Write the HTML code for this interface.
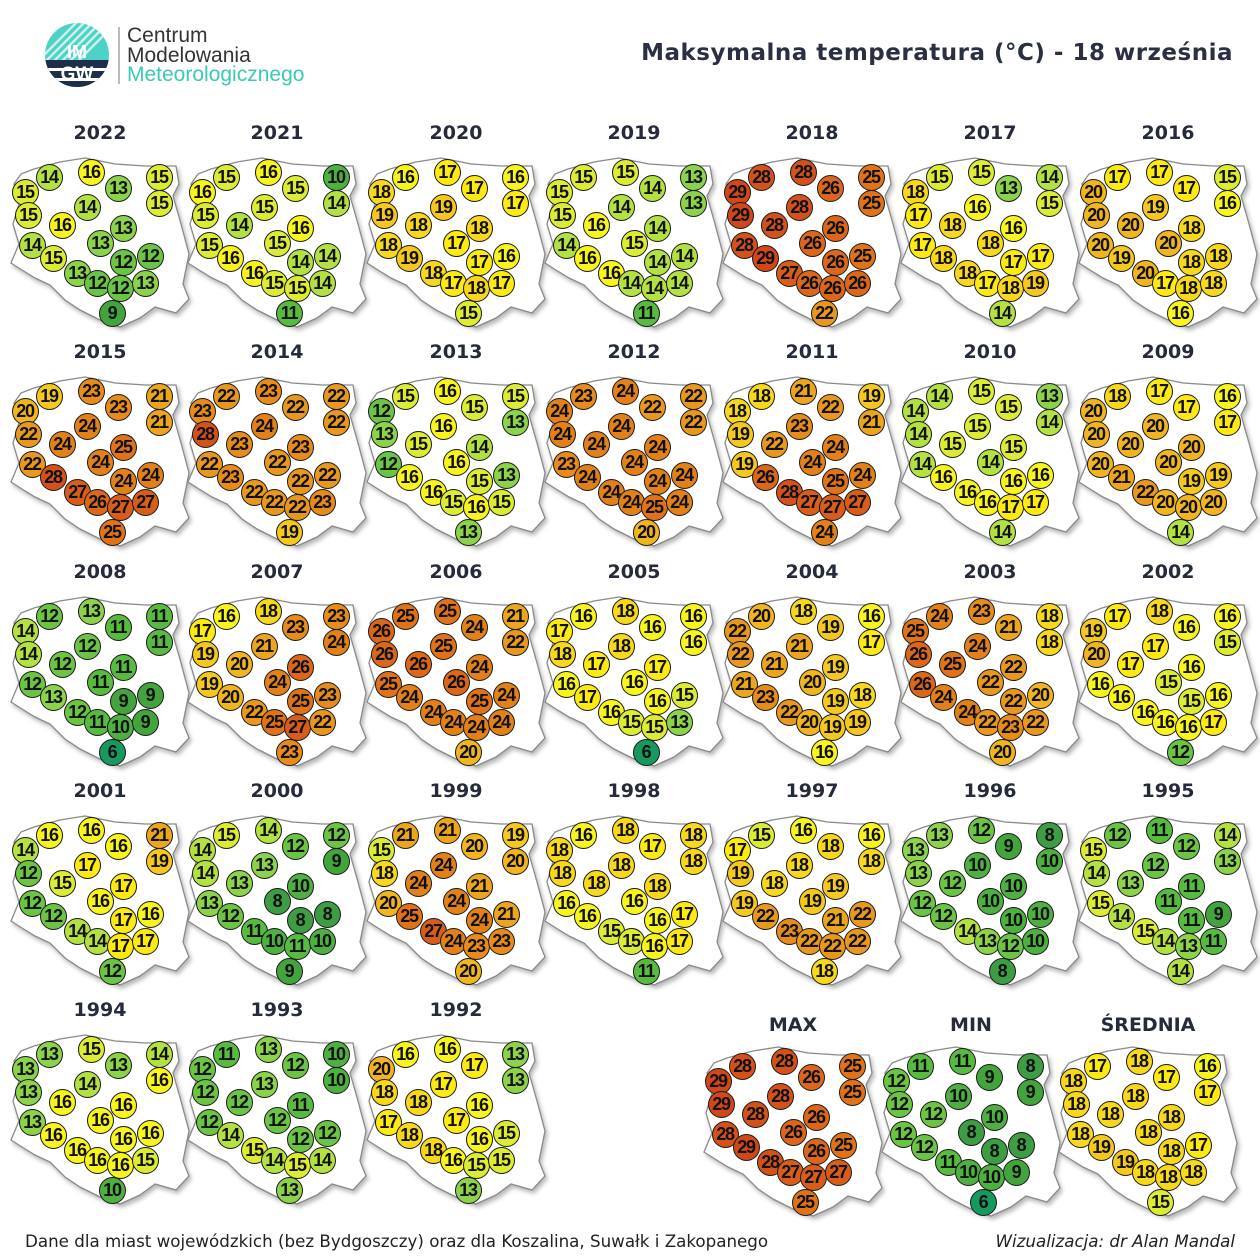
<!DOCTYPE html>
<html><head><meta charset="utf-8">
<style>
body{margin:0;background:#fff;}
#w{position:relative;width:1260px;height:1260px;overflow:hidden;background:#fff;font-family:"Liberation Sans",sans-serif;}
.m{position:absolute;width:0;height:0}
.m b{position:absolute;left:-80px;width:160px;top:-13px;text-align:center;font:bold 19px/26px "DejaVu Sans","Liberation Sans",sans-serif;color:#262b3b}
.m svg{position:absolute;left:-100px;top:0;width:200px;height:210px;overflow:visible;filter:drop-shadow(2px 3px 2px rgba(0,0,0,.28))}
.m i{position:absolute;width:25px;height:25px;margin:-13px 0 0 -13px;border:1px solid #1a1a1a;border-radius:50%;font:bold 18px/25px "Liberation Sans",sans-serif;text-align:center;font-style:normal;color:#111;letter-spacing:-1.3px;text-indent:-1px}
.A{left:-75px;top:59px}.B{left:-51px;top:44px}.C{left:-9px;top:39px}.D{left:18px;top:55px}.E{left:59px;top:44px}
.F{left:59px;top:70px}.G{left:-72px;top:82px}.H{left:-13px;top:74px}.I{left:-38px;top:92px}.J{left:23px;top:95px}
.K{left:-68px;top:112px}.L{left:0px;top:110px}.M{left:-47px;top:125px}.N{left:23px;top:129px}.O{left:50px;top:123px}
.P{left:-23px;top:140px}.Q{left:-3px;top:150px}.R{left:20px;top:155px}.S{left:45px;top:150px}.T{left:12px;top:180px}
.c6{background:#16985e}.c8{background:#3d9c44}.c9{background:#43a43e}.c10{background:#4db040}.c11{background:#57bb3f}
.c12{background:#6cc444}.c13{background:#8cd24a}.c14{background:#b3e042}.c15{background:#dcec34}.c16{background:#f8f41e}
.c17{background:#fcea12}.c18{background:#f8d81c}.c19{background:#f4c81e}.c20{background:#f0b520}.c21{background:#eca51e}
.c22{background:#e8981e}.c23{background:#e68b1c}.c24{background:#e2801a}.c25{background:#e0731a}.c26{background:#dc671a}
.c27{background:#d85d1a}.c28{background:#d4521a}.c29{background:#d0481a}
#title{position:absolute;right:27px;top:40px;font:bold 23px "DejaVu Sans","Liberation Sans",sans-serif;color:#2a3042;letter-spacing:0.5px}
#f1{position:absolute;left:25px;top:1231px;font:16.7px "DejaVu Sans","Liberation Sans",sans-serif;color:#222}
#f2{position:absolute;right:25px;top:1231px;font:italic 16.7px "DejaVu Sans","Liberation Sans",sans-serif;color:#222}
</style></head><body><div id="w">
<svg width="0" height="0" style="position:absolute"><defs>
<polygon id="pl" points="-66,36 -40,29 -15,25 0,28 15,31 45,33 76,33 79,51 73,63 81,91 89,121 83,151 89,166 76,180 55,174 40,185 20,194 0,187 -20,177 -35,167 -50,152 -65,145 -78,137 -89,130 -81,111 -87,91 -81,71 -86,51 -79,41" fill="#fff" stroke="#8a8a8a" stroke-width="1.3"/>
</defs></svg>

<svg style="position:absolute;left:0;top:0" width="420" height="110">
<defs><clipPath id="lc"><circle cx="77" cy="55" r="32"/></clipPath></defs>
<g clip-path="url(#lc)">
<rect x="40" y="20" width="80" height="70" fill="#4fd2c6"/>
<g stroke="#fff" stroke-width="2.5" opacity=".7">
<line x1="45" y1="70" x2="95" y2="20"/><line x1="53" y1="70" x2="103" y2="20"/><line x1="61" y1="70" x2="111" y2="20"/><line x1="69" y1="70" x2="119" y2="20"/><line x1="37" y1="70" x2="87" y2="20"/><line x1="29" y1="70" x2="79" y2="20"/></g>
<rect x="40" y="60" width="80" height="30" fill="#1d2d4a"/>
<rect x="40" y="68" width="80" height="3" fill="#fff"/><rect x="40" y="78" width="80" height="3" fill="#fff"/>
</g>
<text x="77" y="58" text-anchor="middle" font-family="Liberation Sans" font-weight="bold" font-size="18" fill="#fff">IM</text>
<text x="77" y="80" text-anchor="middle" font-family="Liberation Sans" font-weight="bold" font-size="19" fill="#fff">GW</text>
<line x1="119" y1="27" x2="119" y2="84" stroke="#777" stroke-width="1"/>
<text x="127" y="42" font-family="Liberation Sans" font-size="21" fill="#333">Centrum</text>
<text x="127" y="62" font-family="Liberation Sans" font-size="21" fill="#333">Modelowania</text>
<text x="127" y="81" font-family="Liberation Sans" font-size="21" fill="#3cc9b6">Meteorologicznego</text>
</svg>
<div id="title">Maksymalna temperatura (°C) - 18 września</div>

<div class="m" style="left:100px;top:133px"><b>2022</b><svg viewBox="-100 0 200 210"><use href="#pl"/></svg><i class="A c15">15</i><i class="B c14">14</i><i class="C c16">16</i><i class="D c13">13</i><i class="E c15">15</i><i class="F c15">15</i><i class="G c15">15</i><i class="H c14">14</i><i class="I c16">16</i><i class="J c13">13</i><i class="K c14">14</i><i class="L c13">13</i><i class="M c15">15</i><i class="N c12">12</i><i class="O c12">12</i><i class="P c13">13</i><i class="Q c12">12</i><i class="R c12">12</i><i class="S c13">13</i><i class="T c9">9</i></div>
<div class="m" style="left:277px;top:133px"><b>2021</b><svg viewBox="-100 0 200 210"><use href="#pl"/></svg><i class="A c16">16</i><i class="B c15">15</i><i class="C c16">16</i><i class="D c15">15</i><i class="E c10">10</i><i class="F c14">14</i><i class="G c15">15</i><i class="H c15">15</i><i class="I c14">14</i><i class="J c16">16</i><i class="K c15">15</i><i class="L c15">15</i><i class="M c16">16</i><i class="N c14">14</i><i class="O c14">14</i><i class="P c16">16</i><i class="Q c15">15</i><i class="R c15">15</i><i class="S c14">14</i><i class="T c11">11</i></div>
<div class="m" style="left:456px;top:133px"><b>2020</b><svg viewBox="-100 0 200 210"><use href="#pl"/></svg><i class="A c18">18</i><i class="B c16">16</i><i class="C c17">17</i><i class="D c17">17</i><i class="E c16">16</i><i class="F c17">17</i><i class="G c19">19</i><i class="H c19">19</i><i class="I c18">18</i><i class="J c18">18</i><i class="K c18">18</i><i class="L c17">17</i><i class="M c19">19</i><i class="N c17">17</i><i class="O c16">16</i><i class="P c18">18</i><i class="Q c17">17</i><i class="R c18">18</i><i class="S c17">17</i><i class="T c15">15</i></div>
<div class="m" style="left:634px;top:133px"><b>2019</b><svg viewBox="-100 0 200 210"><use href="#pl"/></svg><i class="A c15">15</i><i class="B c15">15</i><i class="C c15">15</i><i class="D c14">14</i><i class="E c13">13</i><i class="F c13">13</i><i class="G c15">15</i><i class="H c14">14</i><i class="I c16">16</i><i class="J c14">14</i><i class="K c14">14</i><i class="L c15">15</i><i class="M c16">16</i><i class="N c14">14</i><i class="O c14">14</i><i class="P c16">16</i><i class="Q c14">14</i><i class="R c14">14</i><i class="S c14">14</i><i class="T c11">11</i></div>
<div class="m" style="left:812px;top:133px"><b>2018</b><svg viewBox="-100 0 200 210"><use href="#pl"/></svg><i class="A c29">29</i><i class="B c28">28</i><i class="C c28">28</i><i class="D c26">26</i><i class="E c25">25</i><i class="F c25">25</i><i class="G c29">29</i><i class="H c28">28</i><i class="I c28">28</i><i class="J c26">26</i><i class="K c28">28</i><i class="L c26">26</i><i class="M c29">29</i><i class="N c26">26</i><i class="O c25">25</i><i class="P c27">27</i><i class="Q c26">26</i><i class="R c26">26</i><i class="S c26">26</i><i class="T c22">22</i></div>
<div class="m" style="left:990px;top:133px"><b>2017</b><svg viewBox="-100 0 200 210"><use href="#pl"/></svg><i class="A c18">18</i><i class="B c15">15</i><i class="C c15">15</i><i class="D c13">13</i><i class="E c14">14</i><i class="F c15">15</i><i class="G c17">17</i><i class="H c16">16</i><i class="I c18">18</i><i class="J c16">16</i><i class="K c17">17</i><i class="L c18">18</i><i class="M c18">18</i><i class="N c17">17</i><i class="O c17">17</i><i class="P c18">18</i><i class="Q c17">17</i><i class="R c18">18</i><i class="S c19">19</i><i class="T c14">14</i></div>
<div class="m" style="left:1168px;top:133px"><b>2016</b><svg viewBox="-100 0 200 210"><use href="#pl"/></svg><i class="A c20">20</i><i class="B c17">17</i><i class="C c17">17</i><i class="D c17">17</i><i class="E c15">15</i><i class="F c16">16</i><i class="G c20">20</i><i class="H c19">19</i><i class="I c20">20</i><i class="J c18">18</i><i class="K c20">20</i><i class="L c20">20</i><i class="M c19">19</i><i class="N c18">18</i><i class="O c18">18</i><i class="P c20">20</i><i class="Q c17">17</i><i class="R c18">18</i><i class="S c18">18</i><i class="T c16">16</i></div>

<div class="m" style="left:100px;top:352px"><b>2015</b><svg viewBox="-100 0 200 210"><use href="#pl"/></svg><i class="A c20">20</i><i class="B c19">19</i><i class="C c23">23</i><i class="D c23">23</i><i class="E c21">21</i><i class="F c21">21</i><i class="G c22">22</i><i class="H c24">24</i><i class="I c24">24</i><i class="J c25">25</i><i class="K c22">22</i><i class="L c24">24</i><i class="M c28">28</i><i class="N c24">24</i><i class="O c24">24</i><i class="P c27">27</i><i class="Q c26">26</i><i class="R c27">27</i><i class="S c27">27</i><i class="T c25">25</i></div>
<div class="m" style="left:277px;top:352px"><b>2014</b><svg viewBox="-100 0 200 210"><use href="#pl"/></svg><i class="A c23">23</i><i class="B c22">22</i><i class="C c23">23</i><i class="D c22">22</i><i class="E c22">22</i><i class="F c22">22</i><i class="G c28">28</i><i class="H c24">24</i><i class="I c23">23</i><i class="J c23">23</i><i class="K c22">22</i><i class="L c22">22</i><i class="M c23">23</i><i class="N c22">22</i><i class="O c22">22</i><i class="P c22">22</i><i class="Q c22">22</i><i class="R c22">22</i><i class="S c23">23</i><i class="T c19">19</i></div>
<div class="m" style="left:456px;top:352px"><b>2013</b><svg viewBox="-100 0 200 210"><use href="#pl"/></svg><i class="A c12">12</i><i class="B c15">15</i><i class="C c16">16</i><i class="D c15">15</i><i class="E c15">15</i><i class="F c13">13</i><i class="G c13">13</i><i class="H c16">16</i><i class="I c15">15</i><i class="J c14">14</i><i class="K c12">12</i><i class="L c16">16</i><i class="M c16">16</i><i class="N c15">15</i><i class="O c13">13</i><i class="P c16">16</i><i class="Q c15">15</i><i class="R c16">16</i><i class="S c15">15</i><i class="T c13">13</i></div>
<div class="m" style="left:634px;top:352px"><b>2012</b><svg viewBox="-100 0 200 210"><use href="#pl"/></svg><i class="A c24">24</i><i class="B c23">23</i><i class="C c24">24</i><i class="D c22">22</i><i class="E c22">22</i><i class="F c22">22</i><i class="G c24">24</i><i class="H c24">24</i><i class="I c24">24</i><i class="J c24">24</i><i class="K c23">23</i><i class="L c24">24</i><i class="M c24">24</i><i class="N c24">24</i><i class="O c24">24</i><i class="P c24">24</i><i class="Q c24">24</i><i class="R c25">25</i><i class="S c24">24</i><i class="T c20">20</i></div>
<div class="m" style="left:812px;top:352px"><b>2011</b><svg viewBox="-100 0 200 210"><use href="#pl"/></svg><i class="A c18">18</i><i class="B c18">18</i><i class="C c21">21</i><i class="D c22">22</i><i class="E c19">19</i><i class="F c21">21</i><i class="G c19">19</i><i class="H c23">23</i><i class="I c22">22</i><i class="J c24">24</i><i class="K c19">19</i><i class="L c24">24</i><i class="M c26">26</i><i class="N c25">25</i><i class="O c24">24</i><i class="P c28">28</i><i class="Q c27">27</i><i class="R c27">27</i><i class="S c27">27</i><i class="T c24">24</i></div>
<div class="m" style="left:990px;top:352px"><b>2010</b><svg viewBox="-100 0 200 210"><use href="#pl"/></svg><i class="A c14">14</i><i class="B c14">14</i><i class="C c15">15</i><i class="D c15">15</i><i class="E c13">13</i><i class="F c14">14</i><i class="G c14">14</i><i class="H c15">15</i><i class="I c15">15</i><i class="J c15">15</i><i class="K c14">14</i><i class="L c14">14</i><i class="M c16">16</i><i class="N c16">16</i><i class="O c16">16</i><i class="P c16">16</i><i class="Q c16">16</i><i class="R c17">17</i><i class="S c17">17</i><i class="T c14">14</i></div>
<div class="m" style="left:1168px;top:352px"><b>2009</b><svg viewBox="-100 0 200 210"><use href="#pl"/></svg><i class="A c20">20</i><i class="B c18">18</i><i class="C c17">17</i><i class="D c17">17</i><i class="E c16">16</i><i class="F c17">17</i><i class="G c20">20</i><i class="H c20">20</i><i class="I c20">20</i><i class="J c20">20</i><i class="K c20">20</i><i class="L c20">20</i><i class="M c21">21</i><i class="N c19">19</i><i class="O c19">19</i><i class="P c22">22</i><i class="Q c20">20</i><i class="R c20">20</i><i class="S c20">20</i><i class="T c14">14</i></div>

<div class="m" style="left:100px;top:572px"><b>2008</b><svg viewBox="-100 0 200 210"><use href="#pl"/></svg><i class="A c14">14</i><i class="B c12">12</i><i class="C c13">13</i><i class="D c11">11</i><i class="E c11">11</i><i class="F c11">11</i><i class="G c14">14</i><i class="H c12">12</i><i class="I c12">12</i><i class="J c11">11</i><i class="K c12">12</i><i class="L c11">11</i><i class="M c13">13</i><i class="N c9">9</i><i class="O c9">9</i><i class="P c12">12</i><i class="Q c11">11</i><i class="R c10">10</i><i class="S c9">9</i><i class="T c6">6</i></div>
<div class="m" style="left:277px;top:572px"><b>2007</b><svg viewBox="-100 0 200 210"><use href="#pl"/></svg><i class="A c17">17</i><i class="B c16">16</i><i class="C c18">18</i><i class="D c23">23</i><i class="E c23">23</i><i class="F c24">24</i><i class="G c19">19</i><i class="H c21">21</i><i class="I c20">20</i><i class="J c26">26</i><i class="K c19">19</i><i class="L c24">24</i><i class="M c20">20</i><i class="N c25">25</i><i class="O c23">23</i><i class="P c22">22</i><i class="Q c25">25</i><i class="R c27">27</i><i class="S c22">22</i><i class="T c23">23</i></div>
<div class="m" style="left:456px;top:572px"><b>2006</b><svg viewBox="-100 0 200 210"><use href="#pl"/></svg><i class="A c26">26</i><i class="B c25">25</i><i class="C c25">25</i><i class="D c24">24</i><i class="E c21">21</i><i class="F c22">22</i><i class="G c26">26</i><i class="H c25">25</i><i class="I c26">26</i><i class="J c24">24</i><i class="K c25">25</i><i class="L c26">26</i><i class="M c24">24</i><i class="N c25">25</i><i class="O c24">24</i><i class="P c24">24</i><i class="Q c24">24</i><i class="R c24">24</i><i class="S c24">24</i><i class="T c20">20</i></div>
<div class="m" style="left:634px;top:572px"><b>2005</b><svg viewBox="-100 0 200 210"><use href="#pl"/></svg><i class="A c17">17</i><i class="B c16">16</i><i class="C c18">18</i><i class="D c16">16</i><i class="E c16">16</i><i class="F c16">16</i><i class="G c18">18</i><i class="H c18">18</i><i class="I c17">17</i><i class="J c17">17</i><i class="K c16">16</i><i class="L c16">16</i><i class="M c17">17</i><i class="N c16">16</i><i class="O c15">15</i><i class="P c16">16</i><i class="Q c15">15</i><i class="R c15">15</i><i class="S c13">13</i><i class="T c6">6</i></div>
<div class="m" style="left:812px;top:572px"><b>2004</b><svg viewBox="-100 0 200 210"><use href="#pl"/></svg><i class="A c22">22</i><i class="B c20">20</i><i class="C c18">18</i><i class="D c19">19</i><i class="E c16">16</i><i class="F c17">17</i><i class="G c22">22</i><i class="H c21">21</i><i class="I c21">21</i><i class="J c19">19</i><i class="K c21">21</i><i class="L c20">20</i><i class="M c23">23</i><i class="N c19">19</i><i class="O c18">18</i><i class="P c22">22</i><i class="Q c20">20</i><i class="R c19">19</i><i class="S c19">19</i><i class="T c16">16</i></div>
<div class="m" style="left:990px;top:572px"><b>2003</b><svg viewBox="-100 0 200 210"><use href="#pl"/></svg><i class="A c25">25</i><i class="B c24">24</i><i class="C c23">23</i><i class="D c21">21</i><i class="E c18">18</i><i class="F c18">18</i><i class="G c26">26</i><i class="H c24">24</i><i class="I c25">25</i><i class="J c22">22</i><i class="K c26">26</i><i class="L c22">22</i><i class="M c24">24</i><i class="N c22">22</i><i class="O c20">20</i><i class="P c24">24</i><i class="Q c22">22</i><i class="R c23">23</i><i class="S c22">22</i><i class="T c20">20</i></div>
<div class="m" style="left:1168px;top:572px"><b>2002</b><svg viewBox="-100 0 200 210"><use href="#pl"/></svg><i class="A c19">19</i><i class="B c17">17</i><i class="C c18">18</i><i class="D c16">16</i><i class="E c16">16</i><i class="F c15">15</i><i class="G c20">20</i><i class="H c17">17</i><i class="I c17">17</i><i class="J c16">16</i><i class="K c16">16</i><i class="L c15">15</i><i class="M c16">16</i><i class="N c15">15</i><i class="O c16">16</i><i class="P c16">16</i><i class="Q c16">16</i><i class="R c16">16</i><i class="S c17">17</i><i class="T c12">12</i></div>

<div class="m" style="left:100px;top:791px"><b>2001</b><svg viewBox="-100 0 200 210"><use href="#pl"/></svg><i class="A c14">14</i><i class="B c16">16</i><i class="C c16">16</i><i class="D c16">16</i><i class="E c21">21</i><i class="F c19">19</i><i class="G c12">12</i><i class="H c17">17</i><i class="I c15">15</i><i class="J c17">17</i><i class="K c12">12</i><i class="L c16">16</i><i class="M c12">12</i><i class="N c17">17</i><i class="O c16">16</i><i class="P c14">14</i><i class="Q c14">14</i><i class="R c17">17</i><i class="S c17">17</i><i class="T c12">12</i></div>
<div class="m" style="left:277px;top:791px"><b>2000</b><svg viewBox="-100 0 200 210"><use href="#pl"/></svg><i class="A c14">14</i><i class="B c15">15</i><i class="C c14">14</i><i class="D c12">12</i><i class="E c12">12</i><i class="F c9">9</i><i class="G c14">14</i><i class="H c13">13</i><i class="I c13">13</i><i class="J c10">10</i><i class="K c13">13</i><i class="L c8">8</i><i class="M c12">12</i><i class="N c8">8</i><i class="O c8">8</i><i class="P c11">11</i><i class="Q c10">10</i><i class="R c11">11</i><i class="S c10">10</i><i class="T c9">9</i></div>
<div class="m" style="left:456px;top:791px"><b>1999</b><svg viewBox="-100 0 200 210"><use href="#pl"/></svg><i class="A c15">15</i><i class="B c21">21</i><i class="C c21">21</i><i class="D c20">20</i><i class="E c19">19</i><i class="F c20">20</i><i class="G c18">18</i><i class="H c24">24</i><i class="I c24">24</i><i class="J c21">21</i><i class="K c20">20</i><i class="L c24">24</i><i class="M c25">25</i><i class="N c24">24</i><i class="O c21">21</i><i class="P c27">27</i><i class="Q c24">24</i><i class="R c23">23</i><i class="S c23">23</i><i class="T c20">20</i></div>
<div class="m" style="left:634px;top:791px"><b>1998</b><svg viewBox="-100 0 200 210"><use href="#pl"/></svg><i class="A c18">18</i><i class="B c16">16</i><i class="C c18">18</i><i class="D c17">17</i><i class="E c18">18</i><i class="F c18">18</i><i class="G c18">18</i><i class="H c18">18</i><i class="I c18">18</i><i class="J c18">18</i><i class="K c16">16</i><i class="L c16">16</i><i class="M c16">16</i><i class="N c16">16</i><i class="O c17">17</i><i class="P c15">15</i><i class="Q c15">15</i><i class="R c16">16</i><i class="S c17">17</i><i class="T c11">11</i></div>
<div class="m" style="left:812px;top:791px"><b>1997</b><svg viewBox="-100 0 200 210"><use href="#pl"/></svg><i class="A c17">17</i><i class="B c15">15</i><i class="C c16">16</i><i class="D c18">18</i><i class="E c16">16</i><i class="F c18">18</i><i class="G c19">19</i><i class="H c18">18</i><i class="I c18">18</i><i class="J c19">19</i><i class="K c19">19</i><i class="L c19">19</i><i class="M c22">22</i><i class="N c21">21</i><i class="O c22">22</i><i class="P c23">23</i><i class="Q c22">22</i><i class="R c22">22</i><i class="S c22">22</i><i class="T c18">18</i></div>
<div class="m" style="left:990px;top:791px"><b>1996</b><svg viewBox="-100 0 200 210"><use href="#pl"/></svg><i class="A c13">13</i><i class="B c13">13</i><i class="C c12">12</i><i class="D c9">9</i><i class="E c8">8</i><i class="F c10">10</i><i class="G c13">13</i><i class="H c10">10</i><i class="I c12">12</i><i class="J c10">10</i><i class="K c12">12</i><i class="L c10">10</i><i class="M c12">12</i><i class="N c10">10</i><i class="O c10">10</i><i class="P c14">14</i><i class="Q c13">13</i><i class="R c12">12</i><i class="S c10">10</i><i class="T c8">8</i></div>
<div class="m" style="left:1168px;top:791px"><b>1995</b><svg viewBox="-100 0 200 210"><use href="#pl"/></svg><i class="A c15">15</i><i class="B c12">12</i><i class="C c11">11</i><i class="D c12">12</i><i class="E c14">14</i><i class="F c13">13</i><i class="G c14">14</i><i class="H c12">12</i><i class="I c13">13</i><i class="J c11">11</i><i class="K c15">15</i><i class="L c11">11</i><i class="M c14">14</i><i class="N c11">11</i><i class="O c9">9</i><i class="P c15">15</i><i class="Q c14">14</i><i class="R c13">13</i><i class="S c11">11</i><i class="T c14">14</i></div>

<div class="m" style="left:100px;top:1010px"><b>1994</b><svg viewBox="-100 0 200 210"><use href="#pl"/></svg><i class="A c13">13</i><i class="B c13">13</i><i class="C c15">15</i><i class="D c13">13</i><i class="E c14">14</i><i class="F c16">16</i><i class="G c13">13</i><i class="H c14">14</i><i class="I c16">16</i><i class="J c16">16</i><i class="K c13">13</i><i class="L c16">16</i><i class="M c16">16</i><i class="N c16">16</i><i class="O c16">16</i><i class="P c16">16</i><i class="Q c16">16</i><i class="R c16">16</i><i class="S c15">15</i><i class="T c10">10</i></div>
<div class="m" style="left:277px;top:1010px"><b>1993</b><svg viewBox="-100 0 200 210"><use href="#pl"/></svg><i class="A c12">12</i><i class="B c11">11</i><i class="C c13">13</i><i class="D c12">12</i><i class="E c10">10</i><i class="F c10">10</i><i class="G c12">12</i><i class="H c13">13</i><i class="I c12">12</i><i class="J c11">11</i><i class="K c12">12</i><i class="L c12">12</i><i class="M c14">14</i><i class="N c12">12</i><i class="O c12">12</i><i class="P c15">15</i><i class="Q c14">14</i><i class="R c15">15</i><i class="S c14">14</i><i class="T c13">13</i></div>
<div class="m" style="left:456px;top:1010px"><b>1992</b><svg viewBox="-100 0 200 210"><use href="#pl"/></svg><i class="A c20">20</i><i class="B c16">16</i><i class="C c16">16</i><i class="D c17">17</i><i class="E c13">13</i><i class="F c13">13</i><i class="G c18">18</i><i class="H c17">17</i><i class="I c18">18</i><i class="J c16">16</i><i class="K c17">17</i><i class="L c17">17</i><i class="M c18">18</i><i class="N c16">16</i><i class="O c15">15</i><i class="P c18">18</i><i class="Q c16">16</i><i class="R c15">15</i><i class="S c15">15</i><i class="T c13">13</i></div>

<div class="m" style="left:793px;top:1022px"><b style="top:-10px">MAX</b><svg viewBox="-100 0 200 210"><use href="#pl"/></svg><i class="A c29">29</i><i class="B c28">28</i><i class="C c28">28</i><i class="D c26">26</i><i class="E c25">25</i><i class="F c25">25</i><i class="G c29">29</i><i class="H c28">28</i><i class="I c28">28</i><i class="J c26">26</i><i class="K c28">28</i><i class="L c26">26</i><i class="M c29">29</i><i class="N c26">26</i><i class="O c25">25</i><i class="P c28">28</i><i class="Q c27">27</i><i class="R c27">27</i><i class="S c27">27</i><i class="T c25">25</i></div>
<div class="m" style="left:971px;top:1022px"><b style="top:-10px">MIN</b><svg viewBox="-100 0 200 210"><use href="#pl"/></svg><i class="A c12">12</i><i class="B c11">11</i><i class="C c11">11</i><i class="D c9">9</i><i class="E c8">8</i><i class="F c9">9</i><i class="G c12">12</i><i class="H c10">10</i><i class="I c12">12</i><i class="J c10">10</i><i class="K c12">12</i><i class="L c8">8</i><i class="M c12">12</i><i class="N c8">8</i><i class="O c8">8</i><i class="P c11">11</i><i class="Q c10">10</i><i class="R c10">10</i><i class="S c9">9</i><i class="T c6">6</i></div>
<div class="m" style="left:1148px;top:1022px"><b style="top:-10px">ŚREDNIA</b><svg viewBox="-100 0 200 210"><use href="#pl"/></svg><i class="A c18">18</i><i class="B c17">17</i><i class="C c18">18</i><i class="D c17">17</i><i class="E c16">16</i><i class="F c17">17</i><i class="G c18">18</i><i class="H c18">18</i><i class="I c18">18</i><i class="J c18">18</i><i class="K c18">18</i><i class="L c18">18</i><i class="M c19">19</i><i class="N c18">18</i><i class="O c17">17</i><i class="P c19">19</i><i class="Q c18">18</i><i class="R c18">18</i><i class="S c18">18</i><i class="T c15">15</i></div>

<div id="f1">Dane dla miast wojewódzkich (bez Bydgoszczy) oraz dla Koszalina, Suwałk i Zakopanego</div>
<div id="f2">Wizualizacja: dr Alan Mandal</div>
</div></body></html>
